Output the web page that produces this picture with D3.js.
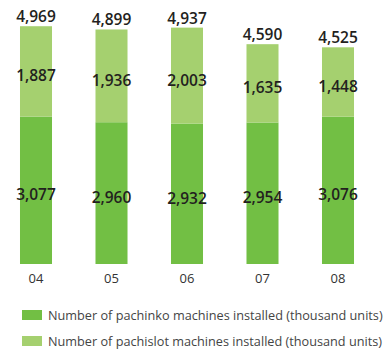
<!DOCTYPE html>
<html>
<head>
<meta charset="utf-8">
<script src="https://cdn.jsdelivr.net/npm/d3@7"></script>
<style>
  body { margin: 0; background: #fff; }
  svg { display: block; }
</style>
</head>
<body>
<svg id="chart" width="392" height="349"></svg>
<script>
// data
const years = ['04', '05', '06', '07', '08'];
const pachinko = [3077, 2960, 2932, 2954, 3076];
const pachislot = [1887, 1936, 2003, 1635, 1448];
const totals = [4969, 4899, 4937, 4590, 4525];
const seriesNames = [
  'Number of pachinko machines installed (thousand units)',
  'Number of pachislot machines installed (thousand units)'
];

const colors = ['#72bf44', '#a5d06f'];
const fmt = d3.format(',');

const svg = d3.select('#chart');
const font = "'Open Sans', 'DejaVu Sans', sans-serif";

const xScale = d3.scaleBand()
  .domain(years)
  .range([-1.75, 375.75])
  .paddingInner(0.576)
  .paddingOuter(0.288);

const yScale = d3.scaleLinear()
  .domain([0, 5000])
  .range([264, 24.5]);

const rows = years.map((y, i) => ({ year: y, pachinko: pachinko[i], pachislot: pachislot[i], total: totals[i] }));
const stack = d3.stack().keys(['pachinko', 'pachislot'])(rows);

// bars
const layers = svg.selectAll('g.layer')
  .data(stack)
  .enter()
  .append('g')
  .attr('class', 'layer')
  .attr('fill', (d, i) => colors[i]);

layers.selectAll('rect')
  .data(d => d)
  .enter()
  .append('rect')
  .attr('x', d => xScale(d.data.year))
  .attr('y', d => yScale(d[1]))
  .attr('width', xScale.bandwidth())
  .attr('height', d => yScale(d[0]) - yScale(d[1]));

// segment labels
layers.selectAll('text')
  .data((d, i) => d.map(s => ({ s, key: d.key })))
  .enter()
  .append('text')
  .attr('x', d => xScale(d.s.data.year) + xScale.bandwidth() / 2)
  .attr('y', d => (yScale(d.s[0]) + yScale(d.s[1])) / 2 + 4)
  .attr('text-anchor', 'middle')
  .attr('dominant-baseline', 'central')
  .attr('fill', '#231f20')
  .style('font-family', font)
  .style('font-weight', 600)
  .style('font-size', '15.5px')
  .text(d => fmt(d.s.data[d.key]));

// totals above bars
svg.selectAll('.total')
  .data(rows)
  .enter()
  .append('text')
  .attr('class', 'total')
  .attr('x', d => xScale(d.year) + xScale.bandwidth() / 2)
  .attr('y', d => yScale(d.total) - 10)
  .attr('text-anchor', 'middle')
  .attr('dominant-baseline', 'central')
  .attr('fill', '#231f20')
  .style('font-family', font)
  .style('font-weight', 600)
  .style('font-size', '15.5px')
  .text(d => fmt(d.total));

// x axis labels, no line or ticks
const xAxis = svg.append('g')
  .attr('transform', 'translate(0,264)')
  .call(d3.axisBottom(xScale).tickSize(0).tickPadding(10));
xAxis.select('.domain').remove();
xAxis.selectAll('text')
  .attr('fill', '#333')
  .style('font-family', font)
  .style('font-size', '13px');

// legend
const legend = svg.selectAll('.legend')
  .data(seriesNames)
  .enter()
  .append('g')
  .attr('class', 'legend')
  .attr('transform', (d, i) => `translate(22,${315 + i * 26})`);

legend.append('rect')
  .attr('x', 0)
  .attr('y', -5)
  .attr('width', 20)
  .attr('height', 10)
  .attr('fill', (d, i) => colors[i]);

legend.append('text')
  .attr('x', 26)
  .attr('y', 0)
  .attr('dominant-baseline', 'central')
  .attr('fill', '#444')
  .style('font-family', font)
  .style('font-size', '12.7px')
  .text(d => d);
</script>
</body>
</html>
